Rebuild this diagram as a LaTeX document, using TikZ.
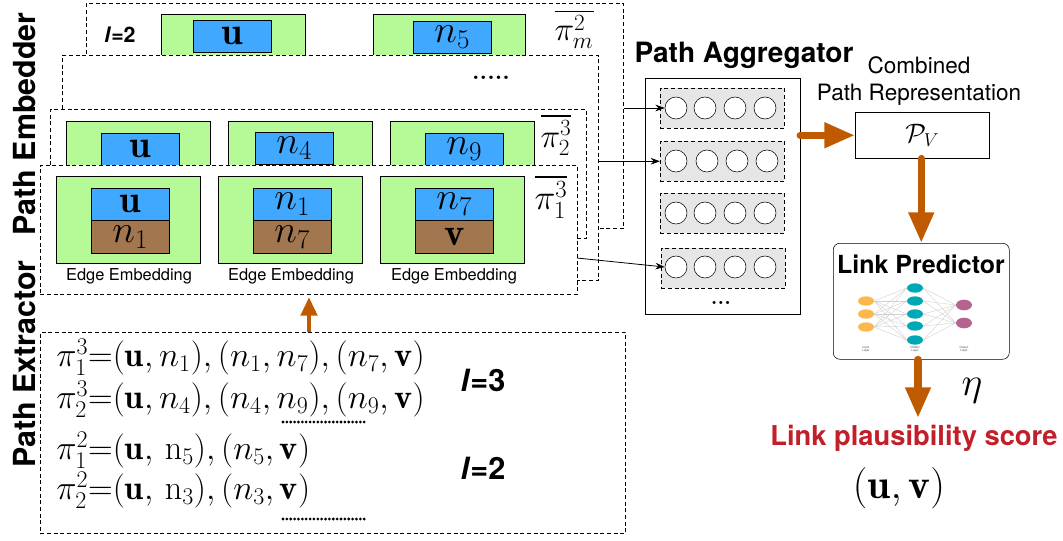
\documentclass[tikz,border=0pt]{standalone}
\usepackage{fix-cm}
\usepackage{amsmath}
\usepackage{bm}
\usepackage{fontspec}
\setsansfont{TeX Gyre Heros}
\usepackage{tikz}
\usetikzlibrary{arrows.meta,shapes.geometric}
\definecolor{rustline}{HTML}{C05A00}
\definecolor{leafgreen}{HTML}{B5FA97}
\definecolor{skyblue}{HTML}{40A9FF}
\definecolor{earthbrown}{HTML}{A27750}
\definecolor{rowgrey}{HTML}{E6E6E6}
\definecolor{scorered}{HTML}{C1202A}
\definecolor{inputgold}{HTML}{FDB84D}
\definecolor{hiddenteal}{HTML}{00A8B5}
\definecolor{outputmauve}{HTML}{B5648F}
\newcommand{\fs}[1]{\fontsize{#1}{#1}\selectfont}
\tikzstyle{layerbox}=[rectangle,draw=black,fill=white,densely dashed,
                      inner sep=0pt,anchor=north west]
\tikzstyle{greenbox}=[rectangle,draw=black,fill=leafgreen,
                      inner sep=0pt,minimum width=108pt,anchor=north west]
\tikzstyle{bluebox}=[rectangle,draw=black,fill=skyblue,inner sep=0pt,
                     minimum width=58.5pt,minimum height=24pt,
                     anchor=north west,font=\fs{29}]
\tikzstyle{brownbox}=[bluebox,fill=earthbrown]
\tikzstyle{rowbox}=[rectangle,draw=black,fill=rowgrey,densely dashed,inner sep=0pt,
                    minimum width=93pt,minimum height=30pt,anchor=north west]
\tikzstyle{whitedot}=[circle,draw=black,fill=white,
                      inner sep=0pt,minimum size=16.5pt]
\tikzstyle{plainbox}=[rectangle,draw=black,fill=white,inner sep=0pt,anchor=north west]
\tikzstyle{edgetext}=[font=\sffamily\fs{12.3}]
\tikzstyle{headtext}=[font=\sffamily\bfseries\fs{21}]
\tikzstyle{sidetext}=[font=\sffamily\bfseries\fs{22.8},rotate=90]
\tikzstyle{pathtext}=[font=\fs{25.7},anchor=west,inner sep=0pt]
\tikzstyle{lentext}=[font=\sffamily\bfseries\fs{23}]
\tikzstyle{thinarrow}=[-{Stealth[length=7pt,width=5pt]},draw=black,line width=0.6pt]
\tikzstyle{fatarrow}=[-{Triangle[length=23pt,width=18pt]},draw=rustline,
                      line width=5.5pt,line cap=round]
\tikzstyle{dotrule}=[draw=black,line width=2.3pt,line cap=round,dash pattern=on 0pt off 2.9pt]
\tikzstyle{inlayer}=[ellipse,fill=inputgold,minimum width=12pt,minimum height=7pt,inner sep=0pt]
\tikzstyle{hidlayer}=[ellipse,fill=hiddenteal,minimum width=12pt,minimum height=7pt,inner sep=0pt]
\tikzstyle{outlayer}=[ellipse,fill=outputmauve,minimum width=12pt,minimum height=8pt,inner sep=0pt]
\tikzstyle{tinytext}=[font=\sffamily\fs{2.2},align=center,inner sep=0pt,text=black!70]
\begin{document}
\begin{tikzpicture}[x=0.75pt,y=-0.75pt]
    \useasboundingbox (0,0) rectangle (1063,540);
    % back layer
    \node (layerm) at (86,3) [layerbox,minimum width=403pt,minimum height=169pt]{};
    \node (gm1) at (161,14) [greenbox,minimum height=36pt]{};
    \node (gm2) at (373,14) [greenbox,minimum width=114pt,minimum height=36pt]{};
    \node (bm1) at (193,20) [bluebox]{$\mathbf{u}$};
    \node (bm2) at (413,21) [bluebox]{$n_5$};
    \node (lm) at (120,35) [lentext,font=\sffamily\bfseries\fs{16}]{\textit{l}=2};
    \node (pim) at (574,29) [font=\fs{24.9}]{$\overline{\pi_m^2}$};
    % blank layer
    \node (layerd) at (62,55) [layerbox,minimum width=402pt,minimum height=169pt]{};
    \node (dotsd) at (491,78) [font=\bfseries\fs{18}]{.....};
    % second path
    \node (layer2) at (50,109) [layerbox,minimum width=402pt,minimum height=97pt]{};
    \node (g21) at (66,121) [greenbox,minimum height=45pt]{};
    \node (g22) at (228,121) [greenbox,minimum height=45pt]{};
    \node (g23) at (390,121) [greenbox,minimum height=45pt]{};
    \node (b21) at (101,133) [bluebox]{$\mathbf{u}$};
    \node (b22) at (255,132) [bluebox]{$n_4$};
    \node (b23) at (425,133) [bluebox]{$n_9$};
    \node (pi2) at (556,135) [font=\fs{24.9}]{$\overline{\pi_2^3}$};
    % first path
    \node (layer1) at (40,165) [layerbox,minimum width=402.5pt,minimum height=97pt]{};
    \node (g11) at (56,176) [greenbox,minimum height=65pt]{};
    \node (g12) at (218,176) [greenbox,minimum height=65pt]{};
    \node (g13) at (380,176) [greenbox,minimum height=65pt]{};
    \node (b11) at (91,188) [bluebox]{$\mathbf{u}$};
    \node (b12) at (253,188) [bluebox]{$n_1$};
    \node (b13) at (415,188) [bluebox]{$n_7$};
    \node (br11) at (91,220) [brownbox,minimum height=25pt]{$n_1$};
    \node (br12) at (253,220) [brownbox,minimum height=25pt]{$n_7$};
    \node (br13) at (415,220) [brownbox,minimum height=25pt]{$\mathbf{v}$};
    \node (e1) at (129,276) [edgetext]{Edge Embedding};
    \node (e2) at (291,276) [edgetext]{Edge Embedding};
    \node (e3) at (454,276) [edgetext]{Edge Embedding};
    \node (pi1) at (551,197) [font=\fs{26.5}]{$\overline{\pi_1^3}$};
    % aggregator
    \node (agg) at (645,78) [plainbox,minimum width=116pt,minimum height=177pt]{};
    \node (agghead) at (744,55) [headtext]{Path Aggregator};
    \node (row1) at (660,88) [rowbox]{};
    \node (row2) at (660,141) [rowbox]{};
    \node (row3) at (660,193) [rowbox]{};
    \node (row4) at (661,248) [rowbox]{};
    \foreach \cx [count=\ci] in {676,705,735,765} {
      \node (ca\ci) at (\cx,108) [whitedot]{};
      \node (cc\ci) at (\cx,213) [whitedot]{};
      \node (cd\ci) at (\cx,267) [whitedot]{};
    }
    \foreach \cx [count=\ci] in {676,707,737,767} {
      \node (cb\ci) at (\cx,161) [whitedot]{};
    }
    \node (aggdots) at (721,303) [font=\bfseries\fs{16}]{...};
    \coordinate (from1) at (layerm.east |- ca1.west);
    \coordinate (from2) at (layerd.east |- row2.west);
    \coordinate (from3) at (577,258);
    \draw[thinarrow] (from1) -- (ca1.west);
    \draw[thinarrow] (from2) -- (row2.west);
    \draw[thinarrow] (from3) -- (cd1.west);
    % combined path and predictor
    \node (comb) at (919,81) [align=center,font=\sffamily\fs{16.9},inner sep=0pt]
       {Combined\\[4pt]Path Representation};
    \node (pv) at (855,112) [plainbox,minimum width=100.5pt,minimum height=34.5pt,
       font=\fs{20}]{$\mathcal{P}_V$};
    \node (pred) at (833,243) [plainbox,rounded corners=5pt,minimum width=132pt,minimum height=87pt]{};
    \node (predhead) at (921,264) [headtext,font=\sffamily\bfseries\fs{18.7}]{Link Predictor};
    \foreach \ny [count=\ni] in {301,314,327} {
      \node (in\ni) at (866,\ny) [inlayer]{};
    }
    \foreach \ny [count=\ni] in {288,301,314,326,340} {
      \node (hid\ni) at (915,\ny) [hidlayer]{};
    }
    \foreach \ny [count=\ni] in {305,323} {
      \node (out\ni) at (964,\ny) [outlayer]{};
    }
    \foreach \a in {1,2,3} \foreach \b in {1,...,5} {
      \draw[black!18,line width=0.3pt] (in\a.east) -- (hid\b.west);
    }
    \foreach \a in {1,2} \foreach \b in {1,...,5} {
      \draw[black!18,line width=0.3pt] (hid\b.east) -- (out\a.west);
    }
    \node (tin) at (866,349) [tinytext]{Input\\Layer};
    \node (thid) at (915,349) [tinytext]{Hidden\\Layer};
    \node (tout) at (964,349) [tinytext]{Output\\Layer};
    \coordinate (scoretip) at (918,418);
    \node (eta) at (972,391) [font=\fs{30}]{$\eta$};
    \node (score) at (914,438) [font=\sffamily\bfseries\fs{20.5},text=scorered]{Link plausibility score};
    \node (pair) at (899,488) [font=\fs{31}]{$(\mathbf{u},\mathbf{v})$};
    \draw[fatarrow] (agg.east |- pv.west) -- (pv.west);
    \draw[fatarrow] (pv.south -| pred.north) -- (pred.north);
    \draw[fatarrow] (pred.south -| scoretip) -- (scoretip);
    % extractor
    \node (extract) at (40,332) [layerbox,minimum width=439pt,minimum height=151pt]{};
    \node (line1) at (56,357) [pathtext]{$\pi_1^3{=}(\mathbf{u},n_1),(n_1,n_7),(n_7,\mathbf{v})$};
    \node (line2) at (56,399) [pathtext]{$\pi_2^3{=}(\mathbf{u},n_4),(n_4,n_9),(n_9,\mathbf{v})$};
    \node (line3) at (56,450) [pathtext]{$\pi_1^2{=}(\mathbf{u},\,\mathrm{n}_5),(n_5,\mathbf{v})$};
    \node (line4) at (56,490) [pathtext]{$\pi_2^2{=}(\mathbf{u},\,\mathrm{n}_3),(n_3,\mathbf{v})$};
    \node (l3) at (483,380) [lentext]{\textit{l}=3};
    \node (l2) at (483,468) [lentext]{\textit{l}=2};
    \coordinate (rulea) at (283,422);
    \coordinate (ruleb) at (367,422);
    \coordinate (rulec) at (283,519);
    \coordinate (ruled) at (367,519);
    \draw[dotrule] (rulea) -- (ruleb);
    \draw[dotrule] (rulec) -- (ruled);
    \coordinate (uptip) at (309,297);
    \draw[-{Triangle[length=14pt,width=12pt]},draw=rustline,line width=3.5pt] (extract.north -| uptip) -- (uptip);
    % side labels
    \node (sideemb) at (25,124) [sidetext]{Path Embedder};
    \node (sideext) at (25,364) [sidetext]{Path Extractor};
\end{tikzpicture}
\end{document}
